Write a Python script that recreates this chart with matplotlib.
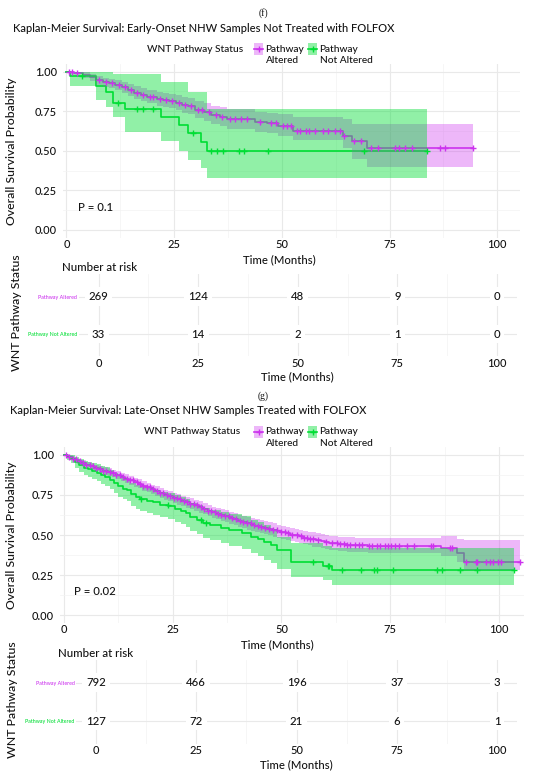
import numpy as np
import matplotlib
matplotlib.use("Agg")
import matplotlib.pyplot as plt
from matplotlib.lines import Line2D
from matplotlib.patches import Rectangle

plt.rcParams['font.family'] = ['Lato', 'DejaVu Sans']
plt.rcParams['font.weight'] = 500

# ---------------- data ----------------
# Panel (f): Early-Onset NHW, not treated with FOLFOX
F_ALT_T = [0, 1.7, 3.9, 5.4, 6.9, 8.4, 9.8, 11.3, 12.8, 14.3, 15.7, 17.2, 18.7, 20.9, 22.4, 23.9,
           25.4, 26.8, 28.3, 29.8, 32.0, 33.5, 35.7, 37.2, 43.8, 46.5, 49.0, 52.7, 64.2, 66.4, 69.8]
F_ALT_S = [1.0, 0.994, 0.979, 0.964, 0.945, 0.933, 0.926, 0.916, 0.901, 0.884, 0.868, 0.853, 0.842,
           0.828, 0.821, 0.815, 0.804, 0.790, 0.783, 0.760, 0.745, 0.728, 0.716, 0.701, 0.684, 0.674,
           0.660, 0.628, 0.594, 0.560, 0.516]
F_ALT_HI = [1.0, 1.0, 0.996, 0.988, 0.973, 0.963, 0.957, 0.950, 0.937, 0.922, 0.908, 0.894, 0.884,
            0.872, 0.866, 0.860, 0.852, 0.840, 0.834, 0.812, 0.800, 0.785, 0.775, 0.762, 0.748, 0.740,
            0.730, 0.716, 0.699, 0.670, 0.670]
F_ALT_LO = [1.0, 0.985, 0.962, 0.942, 0.918, 0.903, 0.895, 0.883, 0.866, 0.847, 0.829, 0.812, 0.800,
            0.785, 0.777, 0.770, 0.757, 0.741, 0.732, 0.706, 0.690, 0.672, 0.658, 0.641, 0.622, 0.610,
            0.595, 0.570, 0.516, 0.450, 0.396]
F_ALT_END = 94.5
F_ALT_CENS = [0.6, 1.2, 2.4, 7.6, 9.2, 10.5, 12.2, 13.6, 15.0, 16.4, 17.8, 19.3, 20.2, 21.6, 23.1,
              24.6, 26.1, 27.6, 29.0, 30.6, 31.4, 33.0, 34.6, 36.2, 38.0, 39.2, 40.6, 42.0, 45.0,
              47.4, 48.6, 50.3, 51.2, 52.2, 53.6, 54.2, 55.7, 56.2, 57.7, 59.5, 60.7, 62.3, 63.4,
              64.5, 66.7, 68.4, 70.8, 72.3, 76.2, 77.2, 78.7, 80.2, 86.7, 88.0, 94.5]

F_NOT_T = [0, 0.8, 6.9, 9.1, 10.9, 13.5, 22.0, 26.1, 28.1, 31.3, 32.6]
F_NOT_S = [1.0, 0.970, 0.909, 0.870, 0.800, 0.762, 0.716, 0.663, 0.615, 0.558, 0.502]
F_NOT_HI = [1.0, 1.0, 1.0, 1.0, 0.985, 0.985, 0.937, 0.937, 0.870, 0.870, 0.762]
F_NOT_LO = [1.0, 0.91, 0.82, 0.78, 0.716, 0.62, 0.56, 0.50, 0.44, 0.39, 0.327]
F_NOT_END = 83.7
F_NOT_CENS = [3.5, 12.0, 16.3, 17.8, 20.2, 29.4, 33.5, 35.0, 36.3, 40.1, 41.3, 46.8, 69.0, 83.7]

# Panel (g): Late-Onset NHW, treated with FOLFOX
G_ALT_T = [0, 1, 2, 3, 4, 5, 6, 7, 8, 9, 10, 11, 12, 13, 14, 15, 16, 17, 18, 19, 20, 21, 22, 23,
           24, 25, 26, 27, 28, 29, 30, 31, 32, 33, 34, 35, 36, 37, 38, 39, 40, 41, 42, 43, 44, 45,
           46, 47, 48, 49, 50, 51, 52, 53, 54, 55, 56, 57, 58, 59, 60, 61, 62, 63, 65, 67, 70,
           86.6, 90.3, 92.0]
G_ALT_S = [1.0, 0.99, 0.975, 0.96, 0.95, 0.94, 0.93, 0.92, 0.91, 0.90, 0.893, 0.885, 0.873, 0.862,
           0.852, 0.842, 0.831, 0.82, 0.808, 0.797, 0.785, 0.773, 0.762, 0.752, 0.742, 0.732, 0.722,
           0.713, 0.704, 0.695, 0.686, 0.675, 0.664, 0.652, 0.642, 0.633, 0.625, 0.617, 0.608, 0.598,
           0.588, 0.580, 0.572, 0.565, 0.559, 0.552, 0.546, 0.539, 0.531, 0.524, 0.517, 0.510, 0.503,
           0.497, 0.491, 0.484, 0.478, 0.472, 0.466, 0.461, 0.456, 0.452, 0.448, 0.445, 0.440, 0.437,
           0.434, 0.417, 0.385, 0.333]
G_ALT_HI = [1.0, 0.997, 0.986, 0.974, 0.966, 0.957, 0.949, 0.940, 0.931, 0.922, 0.916, 0.909, 0.898,
            0.888, 0.879, 0.870, 0.859, 0.849, 0.838, 0.828, 0.815, 0.804, 0.793, 0.784, 0.774, 0.765,
            0.755, 0.746, 0.738, 0.729, 0.720, 0.710, 0.699, 0.688, 0.678, 0.669, 0.662, 0.654, 0.645,
            0.636, 0.626, 0.618, 0.611, 0.604, 0.598, 0.592, 0.586, 0.579, 0.572, 0.565, 0.558, 0.551,
            0.545, 0.539, 0.533, 0.527, 0.521, 0.516, 0.510, 0.505, 0.500, 0.496, 0.492, 0.490, 0.486,
            0.483, 0.480, 0.495, 0.475, 0.469]
G_ALT_LO = [1.0, 0.983, 0.964, 0.946, 0.934, 0.923, 0.911, 0.900, 0.889, 0.878, 0.870, 0.861, 0.848,
            0.836, 0.825, 0.814, 0.803, 0.791, 0.778, 0.766, 0.755, 0.742, 0.731, 0.720, 0.710, 0.699,
            0.689, 0.680, 0.670, 0.661, 0.652, 0.640, 0.629, 0.616, 0.606, 0.597, 0.588, 0.580, 0.571,
            0.560, 0.550, 0.542, 0.533, 0.526, 0.520, 0.512, 0.506, 0.499, 0.490, 0.483, 0.476, 0.469,
            0.461, 0.455, 0.449, 0.441, 0.435, 0.428, 0.422, 0.417, 0.412, 0.408, 0.404, 0.400, 0.394,
            0.391, 0.388, 0.368, 0.330, 0.280]
G_ALT_END = 104.9
G_ALT_CENS = [0.5, 1.2, 2.0, 2.8, 3.6, 4.3, 5.1, 5.9, 6.6, 7.4, 8.2, 9.0, 9.7, 10.5, 11.3, 12.0,
              12.8, 13.6, 14.4, 15.1, 15.9, 16.7, 17.4, 18.2, 19.0, 19.8, 20.5, 21.3, 22.1, 22.8,
              23.6, 24.4, 25.2, 25.9, 26.7, 27.5, 28.2, 29.0, 29.8, 30.6, 31.4, 32.2, 33.0, 33.8,
              34.6, 35.4, 36.2, 37.0, 37.9, 38.7, 39.5, 40.4, 41.2, 42.0, 42.9, 43.7, 44.6, 45.4,
              46.3, 47.2, 48.0, 48.9, 50.0, 50.7, 51.4, 52.5, 53.6, 54.4, 55.1, 55.8, 56.6, 57.3,
              58.4, 60.2, 61.7, 62.8, 63.5, 64.3, 65.0, 65.7, 66.8, 67.9, 68.6, 70.1, 70.8, 71.9,
              72.7, 73.8, 74.5, 75.2, 76.0, 77.1, 78.9, 80.4, 84.4, 84.8, 88.8, 89.2, 92.5, 94.7,
              95.0, 96.9, 98.0, 98.7, 99.8, 100.5, 104.9]

G_NOT_T = [0, 0.8, 1.5, 2.5, 3.5, 4.5, 5.5, 6.5, 7.5, 8.5, 9.5, 10.5, 11.5, 12.5, 13.5, 14.5, 15.5,
           16.5, 17.5, 19.0, 20.5, 22.0, 24.0, 25.5, 27.0, 28.0, 29.0, 30.5, 32.0, 33.5, 36.0, 38.0,
           41.0, 43.0, 44.5, 46.0, 47.5, 49.0, 52.2, 59.5, 61.7]
G_NOT_S = [1.0, 0.99, 0.975, 0.955, 0.935, 0.92, 0.91, 0.90, 0.89, 0.875, 0.865, 0.845, 0.825, 0.805,
           0.79, 0.78, 0.755, 0.735, 0.725, 0.715, 0.705, 0.69, 0.682, 0.665, 0.65, 0.635, 0.61, 0.595,
           0.575, 0.56, 0.545, 0.53, 0.515, 0.49, 0.475, 0.455, 0.44, 0.405, 0.333, 0.306, 0.281]
G_NOT_HI = [1.0, 1.0, 1.0, 0.99, 0.975, 0.965, 0.958, 0.95, 0.942, 0.93, 0.922, 0.905, 0.888, 0.87,
            0.858, 0.85, 0.828, 0.81, 0.80, 0.792, 0.784, 0.77, 0.764, 0.748, 0.735, 0.722, 0.70, 0.687,
            0.668, 0.655, 0.642, 0.63, 0.617, 0.595, 0.582, 0.565, 0.54, 0.49, 0.45, 0.43, 0.417]
G_NOT_LO = [1.0, 0.97, 0.948, 0.92, 0.895, 0.875, 0.862, 0.85, 0.838, 0.82, 0.808, 0.785, 0.762, 0.74,
            0.722, 0.71, 0.682, 0.66, 0.65, 0.638, 0.627, 0.61, 0.60, 0.583, 0.566, 0.55, 0.522, 0.505,
            0.484, 0.468, 0.45, 0.432, 0.413, 0.385, 0.368, 0.345, 0.328, 0.29, 0.24, 0.219, 0.19]
G_NOT_END = 103.4
G_NOT_CENS = [17.7, 23.9, 31.6, 32.7, 57.2, 60.6, 61.0, 63.9, 68.3, 71.2, 71.9, 75.6, 85.8, 86.9,
              91.0, 95.0, 103.4]

RISK_TIMES = [0, 25, 50, 75, 100]
F_RISK_ALT = [269, 124, 48, 9, 0]
F_RISK_NOT = [33, 14, 2, 1, 0]
G_RISK_ALT = [792, 466, 196, 37, 3]
G_RISK_NOT = [127, 72, 21, 6, 1]

GROUPS = ["Pathway Altered", "Pathway Not Altered"]
LEGEND_LABELS = ["Pathway\nAltered", "Pathway\nNot Altered"]
TITLE_F = "Kaplan-Meier Survival: Early-Onset NHW Samples Not Treated with FOLFOX"
TITLE_G = "Kaplan-Meier Survival: Late-Onset NHW Samples Treated with FOLFOX"
P_F = "P = 0.1"
P_G = "P = 0.02"

# ---------------- style ----------------
C_ALT = "#CC33EE"
C_NOT = "#00DE34"
A_ALT = 0.35
A_NOT = 0.43
TXT = "#141414"
GRID = "#e9e9e9"

W, H = 550, 775
fig = plt.figure(figsize=(W / 100, H / 100), dpi=100)
fig.patch.set_facecolor("white")


def rect(l, t, r, b):
    return [l / W, 1 - b / H, (r - l) / W, (b - t) / H]


def fx(px):
    return px / W


def fy(py):
    return 1 - py / H


def step_val(T, S, x):
    T = np.asarray(T)
    idx = np.searchsorted(T, x, side="right") - 1
    return np.asarray(S)[idx]


def km_panel(ax, curves, xlim, ptxt, pxy):
    ax.set_xlim(*xlim)
    ax.set_ylim(-0.05, 1.05)
    for sp in ax.spines.values():
        sp.set_visible(False)
    ax.set_xticks(RISK_TIMES)
    ax.set_xticks([12.5, 37.5, 62.5, 87.5], minor=True)
    ax.set_yticks([0, 0.25, 0.5, 0.75, 1.0])
    ax.set_yticklabels(["0.00", "0.25", "0.50", "0.75", "1.00"])
    ax.set_yticks([0.125, 0.375, 0.625, 0.875], minor=True)
    ax.grid(which="major", color=GRID, lw=0.8)
    ax.grid(which="minor", color="#f3f3f3", lw=0.5)
    ax.set_axisbelow(True)
    ax.tick_params(which="both", length=0, labelsize=8, colors=TXT)
    ax.tick_params(axis="x", pad=1.0)
    ax.tick_params(axis="y", pad=4.3)
    for (T, S, HI, LO, END, CENS, col, alpha) in curves:
        tt = list(T) + [END]
        ss = list(S) + [S[-1]]
        ax.step(tt, ss, where="post", color=col, lw=1.2, zorder=2)
    for i, (T, S, HI, LO, END, CENS, col, alpha) in enumerate(curves):
        tt = list(T) + [END]
        ax.fill_between(tt, list(LO) + [LO[-1]], list(HI) + [HI[-1]], step="post",
                        color=col, alpha=alpha, lw=0, zorder=3 + i)
    for (T, S, HI, LO, END, CENS, col, alpha) in curves:
        ax.plot(CENS, step_val(T, S, CENS), ls="none", marker="+", ms=4.5, mew=1.0,
                color=col, zorder=6)
    ax.text(pxy[0], pxy[1], ptxt, fontsize=8.2, color=TXT, va="center", ha="left", zorder=7)


def risk_panel(ax, alt, nota, xlim):
    ax.set_xlim(*xlim)
    ax.set_ylim(0.4, 2.6)
    for sp in ax.spines.values():
        sp.set_visible(False)
    ax.set_xticks(RISK_TIMES)
    ax.set_xticks([12.5, 37.5, 62.5, 87.5], minor=True)
    ax.set_yticks([2, 1])
    ax.set_yticklabels(GROUPS)
    ax.grid(which="major", color=GRID, lw=0.8)
    ax.grid(which="minor", axis="x", color="#f3f3f3", lw=0.5)
    ax.set_axisbelow(True)
    ax.tick_params(which="both", length=0, labelsize=8, colors=TXT)
    ax.tick_params(axis="x", pad=1.0)
    ax.tick_params(axis="y", labelsize=3.8, pad=1.0)
    for lab, col in zip(ax.get_yticklabels(), [C_ALT, C_NOT]):
        lab.set_color(col)
    for t, a, n in zip(RISK_TIMES, alt, nota):
        for yv, v in ((2, a), (1, n)):
            ax.text(t, yv, str(v), ha="center", va="center", fontsize=8.2, color=TXT,
                    bbox=dict(boxstyle="square,pad=0.35", fc="white", ec="none"), zorder=5)


def legend(y1, xt):
    fig.text(fx(xt), fy(y1), "WNT Pathway Status", fontsize=7.3, color=TXT, va="center", ha="left")
    for (x0, col, alpha, lab) in ((254, C_ALT, A_ALT, LEGEND_LABELS[0]),
                                   (308, C_NOT, A_NOT, LEGEND_LABELS[1])):
        fig.add_artist(Rectangle((fx(x0), fy(y1 + 6)), 9 / W, 12 / H, transform=fig.transFigure,
                                 fc=col, alpha=alpha, ec="none"))
        fig.add_artist(Line2D([fx(x0), fx(x0 + 9)], [fy(y1), fy(y1)], transform=fig.transFigure,
                              color=col, lw=1.2))
        fig.add_artist(Line2D([fx(x0 + 4.5)], [fy(y1)], transform=fig.transFigure, color=col,
                              marker="+", ms=4.5, mew=1.0))
        top, bot = lab.split("\n")
        fig.text(fx(x0 + 11.5), fy(y1), top, fontsize=7.3, color=TXT, va="center", ha="left")
        fig.text(fx(x0 + 11.5), fy(y1 + 11.7), bot, fontsize=7.3, color=TXT, va="center", ha="left")


# ---------------- panel (f) ----------------
fig.text(fx(263), fy(13.3), "(f)", fontsize=7, family="Liberation Serif", ha="center",
         va="center", color=TXT)
fig.text(fx(13.3), fy(28.3), TITLE_F, fontsize=8.0, ha="left", va="center", color=TXT)
legend(49, 147)

ax1 = fig.add_axes(rect(63, 63.8, 520, 237.9))
km_panel(ax1,
         [(F_ALT_T, F_ALT_S, F_ALT_HI, F_ALT_LO, F_ALT_END, F_ALT_CENS, C_ALT, A_ALT),
          (F_NOT_T, F_NOT_S, F_NOT_HI, F_NOT_LO, F_NOT_END, F_NOT_CENS, C_NOT, A_NOT)],
         (-0.81, 105.3), P_F, (2.7, 0.145))
fig.text(fx(12), fy(151), "Overall Survival Probability", rotation=90, fontsize=8.8,
         ha="center", va="center", color=TXT)
fig.text(fx(279), fy(259.3), "Time (Months)", fontsize=8.1, ha="center", va="center", color=TXT)

ax2 = fig.add_axes(rect(78.6, 274.3, 516.9, 356.4))
risk_panel(ax2, F_RISK_ALT, F_RISK_NOT, (-5, 105))
fig.text(fx(62), fy(267.3), "Number at risk", fontsize=8.3, ha="left", va="center", color=TXT)
fig.text(fx(17), fy(313), "WNT Pathway Status", rotation=90, fontsize=8.8, ha="center",
         va="center", color=TXT)
fig.text(fx(297), fy(377), "Time (Months)", fontsize=8.1, ha="center", va="center", color=TXT)

# ---------------- panel (g) ----------------
fig.text(fx(263), fy(395.7), "(g)", fontsize=7, family="Liberation Serif", ha="center",
         va="center", color=TXT)
fig.text(fx(10), fy(411), TITLE_G, fontsize=8.0, ha="left", va="center", color=TXT)
legend(431.7, 144)

ax3 = fig.add_axes(rect(60, 447, 524, 623))
km_panel(ax3,
         [(G_ALT_T, G_ALT_S, G_ALT_HI, G_ALT_LO, G_ALT_END, G_ALT_CENS, C_ALT, A_ALT),
          (G_NOT_T, G_NOT_S, G_NOT_HI, G_NOT_LO, G_NOT_END, G_NOT_CENS, C_NOT, A_NOT)],
         (-0.92, 105.75), P_G, (2.4, 0.144))
fig.text(fx(12), fy(535), "Overall Survival Probability", rotation=90, fontsize=8.8,
         ha="center", va="center", color=TXT)
fig.text(fx(277), fy(644.3), "Time (Months)", fontsize=8.1, ha="center", va="center", color=TXT)

ax4 = fig.add_axes(rect(76, 659.7, 517, 744))
risk_panel(ax4, G_RISK_ALT, G_RISK_NOT, (-5, 105))
fig.text(fx(58.5), fy(653.3), "Number at risk", fontsize=8.3, ha="left", va="center", color=TXT)
fig.text(fx(13), fy(700), "WNT Pathway Status", rotation=90, fontsize=8.8, ha="center",
         va="center", color=TXT)
fig.text(fx(296), fy(764.3), "Time (Months)", fontsize=8.1, ha="center", va="center", color=TXT)

fig.savefig("out.png", dpi=100, facecolor="white")
